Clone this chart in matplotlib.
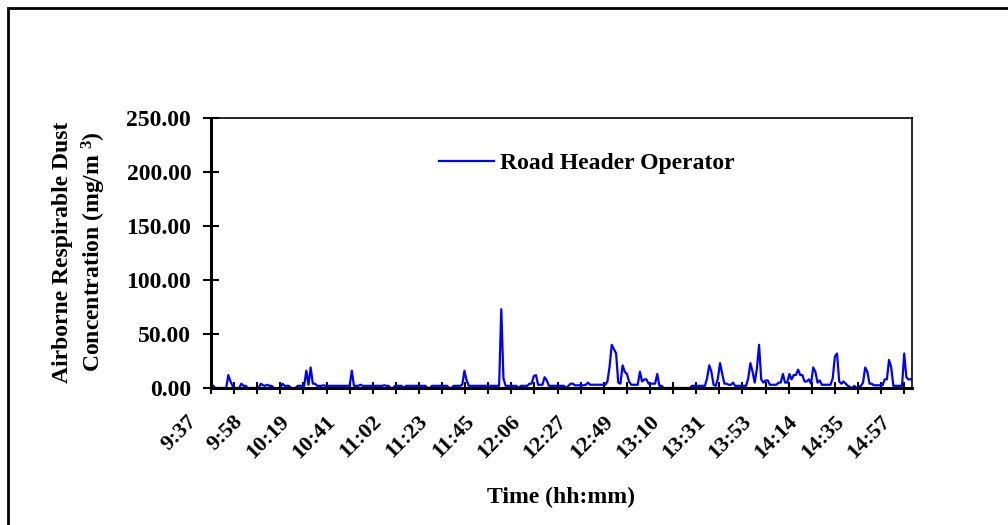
import numpy as np
import matplotlib
matplotlib.use('Agg')
import matplotlib.pyplot as plt
import matplotlib.patches as patches
from matplotlib.transforms import ScaledTranslation

plt.rcParams['font.family'] = ['Liberation Serif', 'DejaVu Serif']
plt.rcParams['font.weight'] = 'bold'
plt.rcParams['mathtext.fontset'] = 'custom'
plt.rcParams['mathtext.rm'] = 'Liberation Serif:bold'
plt.rcParams['mathtext.bf'] = 'Liberation Serif:bold'
plt.rcParams['mathtext.default'] = 'bf'

# Respirable dust readings, one per minute starting at 9:37 (mg/m3)
dust = [
    4, 2, 0, 0, 0, 0, 0, 0, 12, 6, 2, 0, 0, 0, 4, 2, 2, 0, 0, 0,
    0, 0, 0, 4, 2.5, 2, 3, 2, 2, 0, 0, 0, 0, 4, 2, 2, 2, 0, 0, 0,
    2, 2, 2, 2, 16, 3, 19, 4, 4, 2, 2, 2, 2.5, 2, 2, 2, 2, 2, 2, 2,
    2, 2, 2, 2, 2, 16, 2, 2, 2, 3, 2, 2, 2, 2, 2, 2, 2, 2, 2, 2,
    2.5, 2, 2, 0, 0, 2, 2, 2, 2, 0, 2, 2, 2, 2, 2, 2, 2, 2, 2, 2,
    0, 0, 2, 2, 2, 2, 2, 2, 2, 2, 0, 0, 2, 2, 2, 2, 3, 16, 7, 2,
    2, 2, 2, 2, 2, 2, 2, 2, 2, 2, 2, 2, 2, 2, 73, 9, 2, 2, 2, 2,
    2, 2, 0, 2, 2, 2, 2, 4, 4, 11, 12, 3, 3, 3, 10, 7, 2, 2, 2, 2,
    2, 2, 2, 2, 0, 2, 4, 4, 2.5, 2.5, 2.5, 2.5, 2.5, 3, 5, 3, 3, 3, 3, 3,
    3, 3, 3, 6, 20, 40, 36, 32, 5, 4, 21, 15, 13, 6, 3, 3, 3, 3, 15, 6,
    8, 8, 4, 4, 4, 4, 13, 2, 2, 0, 0, 0, 0, 0, 0, 0, 0, 0, 0, 0,
    0, 0, 2, 2, 2, 2, 2, 2, 2, 9, 21, 15, 3, 2, 9, 23, 13, 4, 4, 3,
    3, 5, 2, 2, 2, 2, 2, 2, 9, 23, 15, 5, 18, 40, 8, 5, 7, 7, 3, 3,
    3, 3, 5, 5, 13, 5, 5, 13, 8, 12, 12, 17, 12, 12, 6, 6, 8, 4, 19, 15,
    5, 7, 3, 3, 3, 3, 3, 9, 29, 32, 6, 4, 6, 4, 2, 1, 0, 2, 0, 1,
    2, 5, 19, 15, 4, 4, 2.5, 2.5, 2.5, 2.5, 2.5, 8, 8, 26, 19, 2, 2, 2, 2, 2,
    32, 10, 8, 8,
]
minutes = np.arange(len(dust))

time_labels = ['9:37', '9:58', '10:19', '10:41', '11:02', '11:23', '11:45', '12:06',
               '12:27', '12:49', '13:10', '13:31', '13:53', '14:14', '14:35', '14:57']
label_step = 64 / 3.0   # minutes between labelled ticks

W, H = 1008, 525
fig = plt.figure(figsize=(W / 100, H / 100), dpi=100)
ax = fig.add_axes([211 / W, 1 - 388 / H, (912 - 211) / W, (388 - 118) / H])

ax.plot(minutes, dust, color='#0000FF', linewidth=1.6, label='Road Header Operator')

ax.set_xlim(0, 323.6)
ax.set_ylim(0, 250)
ax.set_yticks(np.arange(0, 251, 50))
ax.set_yticklabels([f'{v:.2f}' for v in np.arange(0, 251, 50)])

xt = np.arange(0, 31) * label_step / 2
ax.set_xticks(xt)
xl = []
for i in range(len(xt)):
    xl.append(time_labels[i // 2] if i % 2 == 0 and i // 2 < len(time_labels) else '')
ax.set_xticklabels(xl, rotation=45, ha='right', va='center', rotation_mode='anchor')

for side in ['left', 'bottom']:
    ax.spines[side].set_linewidth(2.2)
for side in ['top', 'right']:
    ax.spines[side].set_linewidth(1.2)

ax.tick_params(axis='y', direction='inout', length=11.5, width=1.5, pad=8.5, labelsize=17)
ax.tick_params(axis='x', direction='inout', length=8, width=1.5, pad=18, labelsize=16)

shift = ScaledTranslation(-0.17, 0, fig.dpi_scale_trans)
for lab in ax.get_xticklabels():
    lab.set_transform(lab.get_transform() + shift)

ax.legend(loc='center', bbox_to_anchor=(0.536, 0.833), frameon=False,
          fontsize=17, handlelength=2.3, handletextpad=0.25)

fig.text(80 / W, 1 - 252 / H, 'Airborne Respirable Dust\nConcentration (mg/m$^{\\ 3}$)',
         rotation=90, ha='center', va='center', multialignment='center',
         fontsize=17, fontweight='bold', linespacing=1.35)
fig.text(561 / W, 1 - 497 / H, 'Time (hh:mm)', ha='center', va='center',
         fontsize=17, fontweight='bold')

# outer chart frame (runs off the right and bottom edges)
frame = patches.Rectangle((8 / W, -0.5), 2, 1.5 - 8 / H, transform=fig.transFigure,
                          fill=False, linewidth=2, edgecolor='black', clip_on=False)
fig.add_artist(frame)

fig.savefig('out.png', dpi=100)
